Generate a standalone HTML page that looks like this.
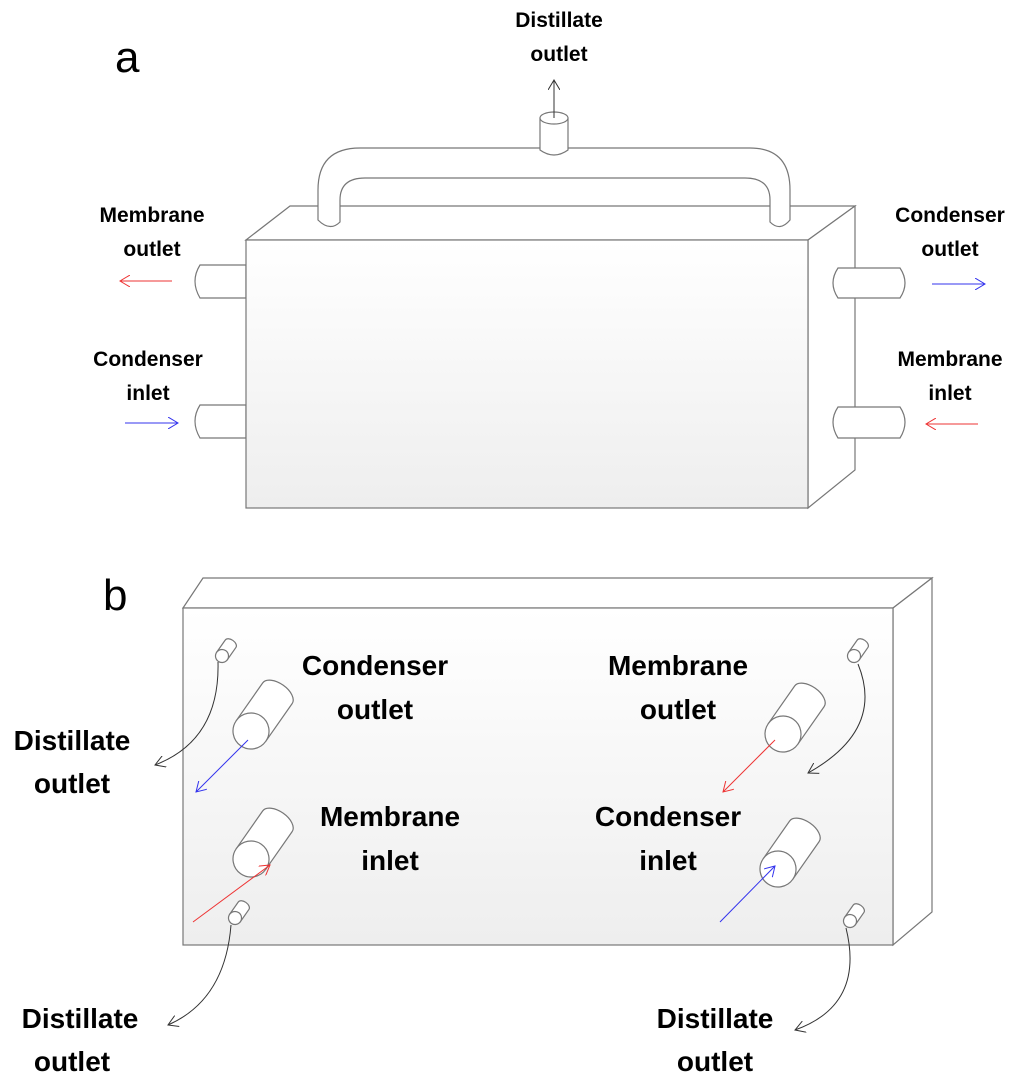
<!DOCTYPE html>
<html><head><style>
body{margin:0;background:#fff;}
svg text{font-family:"Liberation Sans",sans-serif;font-weight:bold;fill:#000;}
</style></head><body>
<svg width="1024" height="1082" viewBox="0 0 1024 1082" xmlns="http://www.w3.org/2000/svg">
<defs>
<linearGradient id="g" x1="0" y1="0" x2="0" y2="1"><stop offset="0" stop-color="#fff"/><stop offset="1" stop-color="#eee"/></linearGradient>
<marker id="ak" markerWidth="12" markerHeight="12" refX="10" refY="6" orient="auto" markerUnits="userSpaceOnUse"><path d="M0,0 L10,6 L0,12" fill="none" stroke="#333" stroke-width="1"/></marker>
<marker id="ar" markerWidth="12" markerHeight="12" refX="10" refY="6" orient="auto" markerUnits="userSpaceOnUse"><path d="M0,0 L10,6 L0,12" fill="none" stroke="#e33" stroke-width="1"/></marker>
<marker id="ab" markerWidth="12" markerHeight="12" refX="10" refY="6" orient="auto" markerUnits="userSpaceOnUse"><path d="M0,0 L10,6 L0,12" fill="none" stroke="#33e" stroke-width="1"/></marker>
<g id="bc"><path d="M0,-18 L46,-18 A10,18 0 0 1 46,18 L0,18 Z"/><circle cx="0" cy="0" r="18"/></g>
<g id="sc"><path d="M0,-6.5 L15,-6.5 A4,6.5 0 0 1 15,6.5 L0,6.5 Z"/><circle cx="0" cy="0" r="6.5"/></g>
</defs>
<g stroke="#777" stroke-width="1.2" fill="#fff">
<polygon points="246,240 290,206 855,206 808,240"/>
<polygon points="808,240 855,206 855,470 808,508"/>
<path d="M318,220 L318,190 Q318,148 360,148 L750,148 Q790,148 790,190 L790,220 Q780,232 770,222 L770,200 Q770,178 745,178 L365,178 Q340,178 340,200 L340,222 Q330,232 318,220 Z"/>
<path d="M540,118 L540,150 Q554,160 568,150 L568,118 Z"/>
<ellipse cx="554" cy="118" rx="14" ry="6"/>
<path d="M246,265 L200,265 Q190,281 200,298 L246,298 Z"/>
<path d="M246,405 L200,405 Q190,421 200,438 L246,438 Z"/>
<path d="M838,268 L900,268 Q910,283 900,298 L838,298 Q828,283 838,268 Z"/>
<path d="M838,407 L900,407 Q910,422 900,438 L838,438 Q828,422 838,407 Z"/>
<rect x="246" y="240" width="562" height="268" fill="url(#g)"/>
<polygon points="183,608 203,578 932,578 893,608"/>
<polygon points="893,608 932,578 932,912 893,945"/>
<rect x="183" y="608" width="710" height="337" fill="url(#g)"/>
<use href="#bc" transform="translate(251,731) rotate(-55)"/>
<use href="#bc" transform="translate(251,859) rotate(-55)"/>
<use href="#bc" transform="translate(783,734) rotate(-55)"/>
<use href="#bc" transform="translate(778,869) rotate(-55)"/>
<use href="#sc" transform="translate(222,656) rotate(-55)"/>
<use href="#sc" transform="translate(854,656) rotate(-55)"/>
<use href="#sc" transform="translate(235,918) rotate(-55)"/>
<use href="#sc" transform="translate(850,921) rotate(-55)"/>
</g>
<g fill="none" stroke-width="1">
<line x1="554" y1="118" x2="554" y2="80" stroke="#333" marker-end="url(#ak)"/>
<line x1="172" y1="281" x2="120" y2="281" stroke="#e33" marker-end="url(#ar)"/>
<line x1="125" y1="423" x2="178" y2="423" stroke="#33e" marker-end="url(#ab)"/>
<line x1="932" y1="284" x2="985" y2="284" stroke="#33e" marker-end="url(#ab)"/>
<line x1="978" y1="424" x2="926" y2="424" stroke="#e33" marker-end="url(#ar)"/>
<line x1="248" y1="740" x2="196" y2="792" stroke="#33e" marker-end="url(#ab)"/>
<line x1="193" y1="922" x2="270" y2="865" stroke="#e33" marker-end="url(#ar)"/>
<line x1="775" y1="740" x2="723" y2="792" stroke="#e33" marker-end="url(#ar)"/>
<line x1="720" y1="922" x2="775" y2="866" stroke="#33e" marker-end="url(#ab)"/>
<path d="M218,662 Q220,740 155,765" stroke="#333" marker-end="url(#ak)"/>
<path d="M858,664 Q885,730 808,773" stroke="#333" marker-end="url(#ak)"/>
<path d="M231,925 Q225,1000 168,1025" stroke="#333" marker-end="url(#ak)"/>
<path d="M846,928 Q865,1005 795,1030" stroke="#333" marker-end="url(#ak)"/>
</g>
<text x="115" y="72" font-size="44" style="font-weight:normal">a</text>
<text x="103" y="610" font-size="44" style="font-weight:normal">b</text>
<g font-size="21" text-anchor="middle">
<text x="559" y="27">Distillate</text><text x="559" y="61">outlet</text>
<text x="152" y="222">Membrane</text><text x="152" y="256">outlet</text>
<text x="148" y="366">Condenser</text><text x="148" y="400">inlet</text>
<text x="950" y="222">Condenser</text><text x="950" y="256">outlet</text>
<text x="950" y="366">Membrane</text><text x="950" y="400">inlet</text>
</g>
<g font-size="28" text-anchor="middle">
<text x="375" y="675">Condenser</text><text x="375" y="719">outlet</text>
<text x="678" y="675">Membrane</text><text x="678" y="719">outlet</text>
<text x="390" y="826">Membrane</text><text x="390" y="870">inlet</text>
<text x="668" y="826">Condenser</text><text x="668" y="870">inlet</text>
<text x="72" y="750">Distillate</text><text x="72" y="793">outlet</text>
<text x="80" y="1028">Distillate</text><text x="72" y="1071">outlet</text>
<text x="715" y="1028">Distillate</text><text x="715" y="1071">outlet</text>
</g>
</svg>
</body></html>
